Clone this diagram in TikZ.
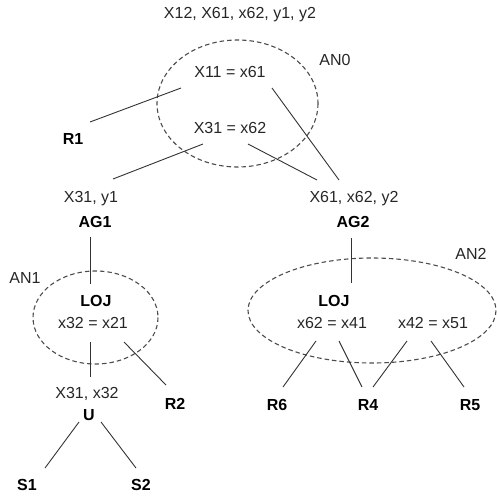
\documentclass[tikz,border=0pt]{standalone}
\usepackage{fontspec}
\setmainfont{Liberation Sans}
\begin{document}
\begin{tikzpicture}[x=1pt,y=-1pt,
  lbl/.style={font=\fontsize{16}{19}\selectfont, text=black!85, inner sep=0pt, anchor=base},
  blbl/.style={lbl, font=\fontsize{16}{19}\selectfont\bfseries, text=black},
  conn/.style={draw=black!80, line width=0.9pt},
  area/.style={draw=black!70, line width=1.1pt, dash pattern=on 4.5pt off 3pt}]
\useasboundingbox (0,0) rectangle (496,498);
% annotation areas
\draw[area] (237.5,103.5) ellipse [x radius=80.5, y radius=63.5];
\draw[area] (95.5,317.5) ellipse [x radius=62.5, y radius=46.5];
\draw[area] (372,310.5) ellipse [x radius=124, y radius=52.5];
% labels
\node[lbl] (top) at (240,18) {X12, X61, x62, y1, y2};
\node[lbl] (c11) at (230,77) {X11 = x61};
\node[lbl] (c31) at (230,133) {X31 = x62};
\node[lbl] (an0) at (335,65) {AN0};
\node[blbl] (r1) at (73,144) {R1};
\node[lbl] (ag1a) at (91,202) {X31, y1};
\node[blbl] (ag1) at (95,227) {AG1};
\node[lbl] (an1) at (25,283) {AN1};
\node[blbl] (loj1) at (96,306) {LOJ};
\node[lbl] (c32) at (93,328) {x32 = x21};
\node[lbl] (ua) at (87,398) {X31, x32};
\node[blbl] (u) at (89,420) {U};
\node[blbl] (r2) at (175,409) {R2};
\node[blbl] (s1) at (27,490) {S1};
\node[blbl] (s2) at (141,490) {S2};
\node[lbl] (ag2a) at (354,202) {X61, x62, y2};
\node[blbl] (ag2) at (353,227) {AG2};
\node[lbl] (an2) at (471,259) {AN2};
\node[blbl] (loj2) at (334,306) {LOJ};
\node[lbl] (c62) at (332,328) {x62 = x41};
\node[lbl] (c42) at (433,328) {x42 = x51};
\node[blbl] (r6) at (277,410) {R6};
\node[blbl] (r4) at (368,410) {R4};
\node[blbl] (r5) at (470,410) {R5};
% connector end points
\coordinate (p1a) at (90,122);  \coordinate (p1b) at (181,88);
\coordinate (p2a) at (113,179); \coordinate (p2b) at (203,144);
\coordinate (p3a) at (248,144); \coordinate (p3b) at (317,180);
\coordinate (p4a) at (272,88);  \coordinate (p4b) at (339,180);
\coordinate (p5a) at (90,237);  \coordinate (p5b) at (90,284);
\coordinate (p6a) at (90,342);  \coordinate (p6b) at (90,377);
\coordinate (p7a) at (124,342); \coordinate (p7b) at (166,385);
\coordinate (p8a) at (79,422);  \coordinate (p8b) at (45,468);
\coordinate (p9a) at (101,422); \coordinate (p9b) at (136,468);
\coordinate (q1a) at (351,238); \coordinate (q1b) at (351,283);
\coordinate (q2a) at (316,341); \coordinate (q2b) at (283,387);
\coordinate (q3a) at (339,341); \coordinate (q3b) at (362,387);
\coordinate (q4a) at (407,341); \coordinate (q4b) at (373,387);
\coordinate (q5a) at (431,341); \coordinate (q5b) at (464,387);
% connectors
\foreach \a/\b in {p1a/p1b,p2a/p2b,p3a/p3b,p4a/p4b,p5a/p5b,p6a/p6b,p7a/p7b,p8a/p8b,p9a/p9b,q1a/q1b,q2a/q2b,q3a/q3b,q4a/q4b,q5a/q5b}
  \draw[conn] (\a) -- (\b);
\end{tikzpicture}
\end{document}
